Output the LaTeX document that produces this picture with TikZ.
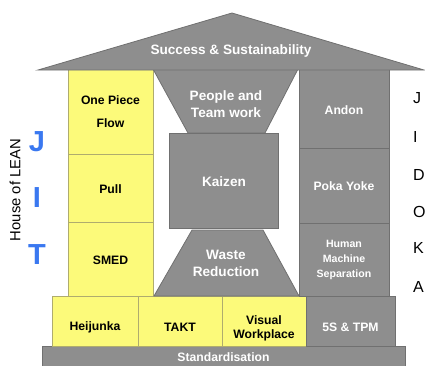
\documentclass[tikz,border=0pt]{standalone}
\usepackage{fontspec}
\setmainfont{Liberation Sans}
\definecolor{gfill}{RGB}{142,142,142}
\definecolor{gline}{RGB}{112,112,112}
\definecolor{yfill}{RGB}{252,250,122}
\definecolor{yline}{RGB}{175,172,110}
\definecolor{jitblue}{RGB}{58,120,240}
\begin{document}
\begin{tikzpicture}[x=1pt,y=-1pt,
  gbox/.style={fill=gfill,draw=gline,line width=0.8pt},
  ybox/.style={fill=yfill,draw=yline,line width=0.8pt},
  wtxt/.style={text=white,font=\bfseries\fontsize{12.2}{14}\selectfont,align=center,inner sep=0pt},
  wbig/.style={text=white,font=\bfseries\fontsize{13.6}{17}\selectfont,align=center,inner sep=0pt},
  btxt/.style={text=black,font=\bfseries\fontsize{12.2}{14}\selectfont,align=center,inner sep=0pt},
  side/.style={text=black,font=\fontsize{16}{18}\selectfont,anchor=west,inner sep=0pt},
  jit/.style={text=jitblue,font=\bfseries\fontsize{29}{30}\selectfont,inner sep=0pt}]
\useasboundingbox (0,0) rectangle (425,365);
% base
\draw[gbox] (42,346) rectangle (405,367);
\draw[ybox] (52,296) rectangle (138,346);
\draw[ybox] (138,296) rectangle (222,346);
\draw[ybox] (222,296) rectangle (306,346);
\draw[gbox] (306,296) rectangle (395,346);
% left column
\draw[ybox] (68,69) rectangle (153,154);
\draw[ybox] (68,154) rectangle (153,222);
\draw[ybox] (68,222) rectangle (153,296);
% right column
\draw[gbox] (299,69) rectangle (389,148);
\draw[gbox] (299,148) rectangle (389,223);
\draw[gbox] (299,223) rectangle (389,296);
% middle
\draw[gbox] (153,69) -- (298,69) -- (265,133) -- (188,133) -- cycle;
\draw[gbox] (169,133) rectangle (278,228);
\draw[gbox] (192,230) -- (263,230) -- (299,296) -- (154,296) -- cycle;
% roof
\draw[gbox] (38,70) -- (232,13) -- (424,70) -- cycle;
% texts
\node[wbig] (roof) at (231,51) {Success \& Sustainability};
\node[btxt,font=\bfseries\fontsize{12.2}{23}\selectfont] (opf) at (110.5,112) {One Piece\\Flow};
\node[btxt] (pull) at (110.5,189) {Pull};
\node[btxt] (smed) at (110.5,260) {SMED};
\node[wbig] (people) at (226,104) {People and\\Team work};
\node[wbig] (kaizen) at (224,182) {Kaizen};
\node[wbig] (waste) at (226,263) {Waste\\Reduction};
\node[wtxt] (andon) at (344,110) {Andon};
\node[wtxt] (poka) at (344,186) {Poka Yoke};
\node[wtxt,font=\bfseries\fontsize{10.6}{14.6}\selectfont] (hms) at (344,260) {Human\\Machine\\Separation};
\node[btxt] (heij) at (95,327) {Heijunka};
\node[btxt] (takt) at (180,327) {TAKT};
\node[btxt] (visual) at (264,328) {Visual\\Workplace};
\node[wtxt] (fives) at (350.5,327) {5S \& TPM};
\node[wtxt] (std) at (223.5,357) {Standardisation};
% left labels
\node[text=black,font=\fontsize{14.8}{16}\selectfont,rotate=90,inner sep=0pt] (house) at (15,190) {House of LEAN};
\node[jit] (j1) at (37,142) {J};
\node[jit] (i1) at (37,198) {I};
\node[jit] (t1) at (37,255) {T};
% right labels
\node[side] (rj) at (413,98) {J};
\node[side] (ri) at (413,137) {I};
\node[side] (rd) at (413,175) {D};
\node[side] (ro) at (413,212) {O};
\node[side] (rk) at (413,248) {K};
\node[side] (ra) at (413,287) {A};
\end{tikzpicture}
\end{document}
